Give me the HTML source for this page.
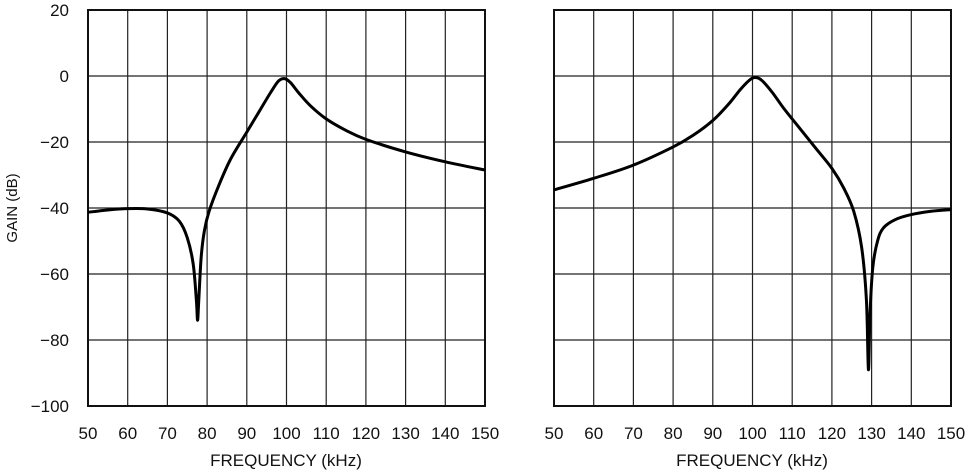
<!DOCTYPE html>
<html><head><meta charset="utf-8"><style>
html,body{margin:0;padding:0;background:#fff;}
text{font-family:"Liberation Sans",sans-serif;font-size:17px;fill:#111;}
</style></head><body>
<svg id="s" width="969" height="470" xmlns="http://www.w3.org/2000/svg">
<g id="g"></g>
<text x="17" y="208" transform="rotate(-90 17 208)" text-anchor="middle" style="font-size:15px">GAIN (dB)</text>
<text x="286" y="466" text-anchor="middle">FREQUENCY (kHz)</text>
<text x="752" y="466" text-anchor="middle">FREQUENCY (kHz)</text>
</svg>
<script>
const g=document.getElementById('g');let h='';
function plot(x0,x1,pts){
 const y0=10,y1=406,w=x1-x0;
 const X=f=>x0+(f-50)/100*w, Y=d=>y0+(20-d)/120*(y1-y0);
 for(let i=1;i<10;i++)h+=`<line x1="${x0+i*w/10}" y1="${y0}" x2="${x0+i*w/10}" y2="${y1}" stroke="#222" stroke-width="1.2"/>`;
 for(let i=1;i<6;i++)h+=`<line x1="${x0}" y1="${y0+i*66}" x2="${x1}" y2="${y0+i*66}" stroke="#222" stroke-width="1.2"/>`;
 h+=`<rect x="${x0}" y="${y0}" width="${w}" height="${y1-y0}" fill="none" stroke="#111" stroke-width="2"/>`;
 for(let i=0;i<=10;i++)h+=`<text x="${x0+i*w/10}" y="439" text-anchor="middle">${50+i*10}</text>`;
 const P=pts.map(p=>[X(p[0]),Y(p[1])]);let d=`M${P[0][0]},${P[0][1]}`;
 for(let i=0;i<P.length-1;i++){const p0=P[Math.max(0,i-1)],p1=P[i],p2=P[i+1],p3=P[Math.min(P.length-1,i+2)];
  d+=`C${p1[0]+(p2[0]-p0[0])/6},${p1[1]+(p2[1]-p0[1])/6} ${p2[0]-(p3[0]-p1[0])/6},${p2[1]-(p3[1]-p1[1])/6} ${p2[0]},${p2[1]}`;}
 h+=`<path d="${d}" fill="none" stroke="#000" stroke-width="3" stroke-linejoin="round"/>`;
}
plot(88,485,[[50,-41.3],[55,-40.6],[60,-40.2],[65,-40.3],[70,-41.5],[73,-44],[75,-49],[76.5,-57],[77.3,-68],[77.6,-74],[77.9,-68],[78.5,-55],[79.3,-47],[80.5,-41],[83,-33],[86,-25],[90,-17],[93,-11],[96,-5],[98,-1.5],[99.5,-0.8],[101,-2],[103,-5],[106,-9],[110,-13],[115,-16.5],[120,-19.2],[130,-23],[140,-26],[150,-28.5]]);
plot(554,951,[[50,-34.5],[60,-31],[70,-27],[80,-21.5],[85,-18],[90,-13.5],[94,-8.5],[97,-4],[99.5,-1],[101,-0.5],[102.5,-1.5],[105,-5],[108,-10],[112,-16],[116,-22],[120,-28],[123,-34],[125.5,-41],[127.5,-52],[128.7,-68],[129.2,-89],[129.6,-72],[130.3,-58],[131.5,-50],[133,-46],[136,-43.5],[140,-42],[145,-41],[150,-40.5]]);
['20','0','\u221220','\u221240','\u221260','\u221280','\u2212100'].forEach((t,i)=>h+=`<text x="69" y="${10+i*66+6}" text-anchor="end">${t}</text>`);
g.innerHTML=h;
</script>
</body></html>
